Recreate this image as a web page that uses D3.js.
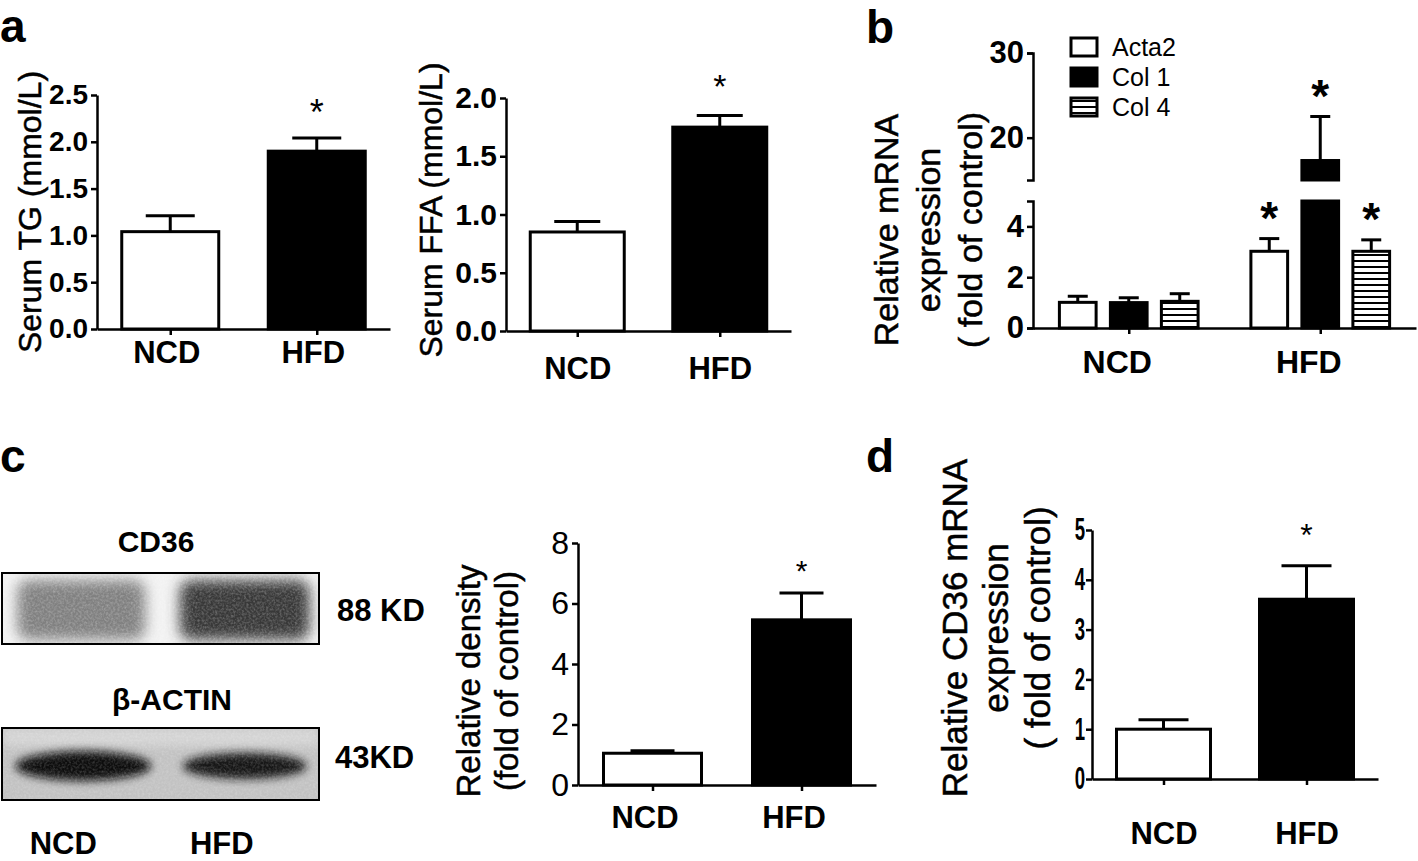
<!DOCTYPE html>
<html>
<head>
<meta charset="utf-8">
<script src="https://cdn.jsdelivr.net/npm/d3@7"></script>
<style>
  body { margin: 0; background: #fff; }
  text { font-family: "Liberation Sans", Arial, sans-serif; fill: #000; }
</style>
</head>
<body>
<svg width="1418" height="861"></svg>
<script>
// ---- data ----
let groups = ['NCD', 'HFD'];
let barFills = ['#fff', '#000'];

let tgMean = [1.04, 1.90];
let tgErr = [0.17, 0.14];
let tgTicks = [0, 0.5, 1.0, 1.5, 2.0, 2.5];

let ffaMean = [0.85, 1.75];
let ffaErr = [0.09, 0.10];
let ffaTicks = [0, 0.5, 1.0, 1.5, 2.0];

let genes = ['Acta2', 'Col 1', 'Col 4'];
let acta2Mean = [1.01, 3.02];
let acta2Err = [0.24, 0.50];
let col1Mean = [1.00, 17.3];
let col1Err = [0.19, 5.2];
let col4Mean = [1.05, 3.02];
let col4Err = [0.30, 0.45];
let mrnaLowTicks = [0, 2, 4];
let mrnaHighTicks = [20, 30];

let cd36Blot = [0.58, 0.82];   // band darkness
let actinBlot = [0.95, 0.93];

let densityMean = [1.05, 5.46];
let densityErr = [0.08, 0.89];
let densityTicks = [0, 2, 4, 6, 8];

let cd36Mean = [1.00, 3.61];
let cd36Err = [0.19, 0.67];
let cd36Ticks = [0, 1, 2, 3, 4, 5];

let svg = d3.select('svg');
let defs = svg.append('defs');

// horizontal stripes for Col 4
let pat = defs.append('pattern').attr('id', 'hatch')
    .attr('patternUnits', 'userSpaceOnUse').attr('width', 8).attr('height', 6);
pat.append('rect').attr('width', 8).attr('height', 6).attr('fill', '#fff');
pat.append('rect').attr('y', 2).attr('width', 8).attr('height', 2).attr('fill', '#000');

defs.append('filter').attr('id', 'blur').attr('x', '-30%').attr('y', '-60%').attr('width', '160%').attr('height', '220%')
  .append('feGaussianBlur').attr('stdDeviation', 7);
defs.append('filter').attr('id', 'blur2').attr('x', '-30%').attr('y', '-60%').attr('width', '160%').attr('height', '220%')
  .append('feGaussianBlur').attr('stdDeviation', 4);

// film grain for the blots
let grain = defs.append('filter').attr('id', 'grain');
grain.append('feTurbulence').attr('type', 'fractalNoise').attr('baseFrequency', 0.45)
    .attr('numOctaves', 2).attr('seed', 3);
grain.append('feColorMatrix').attr('type', 'matrix')
    .attr('values', '0 0 0 0 1  0 0 0 0 1  0 0 0 0 1  0 0 0 -1.4 0.9');

function styleAxis(sel, fs, weight) {
  sel.selectAll('path, line').attr('stroke', '#000').attr('stroke-width', 2.5);
  sel.selectAll('text').attr('font-size', fs).attr('font-weight', weight)
     .attr('font-family', '"Liberation Sans", Arial, sans-serif').attr('fill', '#000');
}

function yLabel(lines, cy, fs) {
  lines.forEach(l => {
    svg.append('text')
        .attr('transform', `translate(${l.x},${cy}) rotate(-90)`)
        .attr('text-anchor', 'middle')
        .attr('dy', '0.35em')
        .attr('font-size', fs)
        .attr('stroke', '#000').attr('stroke-width', 0.5)
        .text(l.t);
  });
}

function panelLetter(t, x, y) {
  svg.append('text').attr('x', x).attr('y', y)
      .attr('font-size', 46).attr('font-weight', 'bold').text(t);
}

function simplePanel(c) {
  let g = svg.append('g');
  let y = d3.scaleLinear().domain([0, c.max]).range([c.y0, c.yTop]);
  let x = d3.scalePoint().domain(groups).range([c.x0, c.x1]).padding(0.5);

  g.selectAll('rect.bar').data(groups).join('rect')
      .attr('class', 'bar')
      .attr('x', d => x(d) - c.barW / 2)
      .attr('width', c.barW)
      .attr('y', (d, i) => y(c.mean[i]))
      .attr('height', (d, i) => c.y0 - y(c.mean[i]))
      .attr('fill', (d, i) => barFills[i])
      .attr('stroke', '#000').attr('stroke-width', 3);

  g.selectAll('line.err').data(groups).join('line')
      .attr('class', 'err')
      .attr('x1', d => x(d)).attr('x2', d => x(d))
      .attr('y1', (d, i) => y(c.mean[i]))
      .attr('y2', (d, i) => y(c.mean[i] + c.err[i]))
      .attr('stroke', '#000').attr('stroke-width', 3);

  g.selectAll('line.cap').data(groups).join('line')
      .attr('class', 'cap')
      .attr('x1', d => x(d) - c.capW / 2).attr('x2', d => x(d) + c.capW / 2)
      .attr('y1', (d, i) => y(c.mean[i] + c.err[i]))
      .attr('y2', (d, i) => y(c.mean[i] + c.err[i]))
      .attr('stroke', '#000').attr('stroke-width', 3);

  // significance star over HFD
  g.append('text')
      .attr('x', x('HFD'))
      .attr('y', y(c.mean[1] + c.err[1]) - c.starGap + 0.57 * c.starSize)
      .attr('text-anchor', 'middle')
      .attr('font-size', c.starSize)
      .text('*');

  let ya = g.append('g').attr('transform', `translate(${c.x0},0)`)
      .call(d3.axisLeft(y).tickValues(c.ticks).tickFormat(c.fmt).tickSize(6).tickSizeOuter(0));
  styleAxis(ya, c.tickFs, c.tickWeight);
  if (c.condensed) {
    ya.selectAll('text').attr('x', -7 / c.condensed).attr('transform', `scale(${c.condensed},1)`);
  }

  let xa = g.append('g').attr('transform', `translate(0,${c.y0})`)
      .call(d3.axisBottom(x).tickSize(6).tickSizeOuter(0));
  styleAxis(xa, c.xFs || 31, 'bold');
  xa.selectAll('text').attr('y', c.xLab).attr('dy', '0.35em').attr('dx', c.xDx || 0);
}

// ---- panel a ----
panelLetter('a', 0, 42);

simplePanel({
  x0: 97, x1: 390, y0: 329, yTop: 95, max: 2.5,
  mean: tgMean, err: tgErr, ticks: tgTicks, fmt: d3.format('.1f'),
  barW: 97, capW: 49, starGap: 34, starSize: 36,
  tickFs: 28, tickWeight: 'bold', xLab: 23, xDx: -4
});
yLabel([{ t: 'Serum TG (mmol/L)', x: 30 }], 212, 32);

simplePanel({
  x0: 506, x1: 791, y0: 331, yTop: 98, max: 2.0,
  mean: ffaMean, err: ffaErr, ticks: ffaTicks, fmt: d3.format('.1f'),
  barW: 94, capW: 46, starGap: 37, starSize: 34,
  tickFs: 30, tickWeight: 'bold', xLab: 37
});
yLabel([{ t: 'Serum FFA (mmol/L)', x: 431 }], 210, 32);

// ---- panel b : grouped bars with broken axis ----
panelLetter('b', 866, 43);
(function () {
  let x0 = 1033, x1 = 1416, y0 = 328;
  let yLow = d3.scaleLinear().domain([0, 5]).range([y0, 201]);
  let yHigh = d3.scaleLinear().domain([15, 30]).range([180, 53]);
  let yv = v => v <= 5 ? yLow(v) : yHigh(v);
  let xg = d3.scalePoint().domain(groups).range([x0, x1]).padding(0.5);
  let xs = d3.scaleBand().domain(genes).range([-77, 77]).paddingInner(0.28).paddingOuter(0.15);
  let fills = ['#fff', '#000', 'url(#hatch)'];
  let means = [acta2Mean, col1Mean, col4Mean];
  let errs = [acta2Err, col1Err, col4Err];
  let rows = [];
  genes.forEach((gene, j) => groups.forEach((grp, i) => rows.push({
    gene, grp, j, mean: means[j][i], err: errs[j][i], star: grp === 'HFD'
  })));
  let g = svg.append('g');
  let bw = xs.bandwidth();

  // lower part of every bar (clipped at 5)
  g.selectAll('rect.low').data(rows).join('rect')
      .attr('x', d => xg(d.grp) + xs(d.gene))
      .attr('width', bw)
      .attr('y', d => yLow(Math.min(d.mean, 5)))
      .attr('height', d => y0 - yLow(Math.min(d.mean, 5)))
      .attr('fill', d => fills[d.j]).attr('stroke', '#000').attr('stroke-width', 3);
  // upper part of bars beyond the break
  g.selectAll('rect.high').data(rows.filter(d => d.mean > 15)).join('rect')
      .attr('x', d => xg(d.grp) + xs(d.gene))
      .attr('width', bw)
      .attr('y', d => yHigh(d.mean))
      .attr('height', d => yHigh(15) - yHigh(d.mean))
      .attr('fill', d => fills[d.j]).attr('stroke', '#000').attr('stroke-width', 3);

  g.selectAll('line.err').data(rows).join('line')
      .attr('x1', d => xg(d.grp) + xs(d.gene) + bw / 2)
      .attr('x2', d => xg(d.grp) + xs(d.gene) + bw / 2)
      .attr('y1', d => yv(d.mean))
      .attr('y2', d => yv(d.mean + d.err))
      .attr('stroke', '#000').attr('stroke-width', 3);
  g.selectAll('line.cap').data(rows).join('line')
      .attr('x1', d => xg(d.grp) + xs(d.gene) + bw / 2 - 10)
      .attr('x2', d => xg(d.grp) + xs(d.gene) + bw / 2 + 10)
      .attr('y1', d => yv(d.mean + d.err))
      .attr('y2', d => yv(d.mean + d.err))
      .attr('stroke', '#000').attr('stroke-width', 3);
  g.selectAll('text.star').data(rows.filter(d => d.star)).join('text')
      .attr('x', d => xg(d.grp) + xs(d.gene) + bw / 2)
      .attr('y', d => yv(d.mean + d.err) - 31 + 0.57 * 46)
      .attr('text-anchor', 'middle').attr('font-size', 46).attr('font-weight', 'bold')
      .text('*');

  let aLow = g.append('g').attr('transform', `translate(${x0},0)`)
      .call(d3.axisLeft(yLow).tickValues(mrnaLowTicks).tickFormat(d3.format('d')).tickSize(6).tickSizeOuter(6));
  styleAxis(aLow, 31, 'bold');
  let aHigh = g.append('g').attr('transform', `translate(${x0},0)`)
      .call(d3.axisLeft(yHigh).tickValues(mrnaHighTicks).tickFormat(d3.format('d')).tickSize(6).tickSizeOuter(6));
  styleAxis(aHigh, 31, 'bold');

  let xa = g.append('g').attr('transform', `translate(0,${y0})`)
      .call(d3.axisBottom(xg).tickSize(6).tickSizeOuter(0));
  styleAxis(xa, 32, 'bold');
  xa.selectAll('text').attr('y', 34).attr('dy', '0.35em').attr('dx', -12);

  // legend
  let lg = g.append('g').attr('transform', 'translate(1071,38)');
  let li = lg.selectAll('g').data(genes).join('g')
      .attr('transform', (d, i) => `translate(0,${i * 30})`);
  li.append('rect').attr('width', 26).attr('height', 18)
      .attr('fill', (d, i) => fills[i]).attr('stroke', '#000').attr('stroke-width', 3);
  li.append('text').attr('x', 41).attr('y', 9).attr('dy', '0.35em')
      .attr('font-size', 25).text(d => d);
})();
yLabel([
  { t: 'Relative mRNA', x: 886 },
  { t: 'expression', x: 928 },
  { t: '( fold of control)', x: 970 }
], 230, 34);

// ---- panel c : western blot + density ----
panelLetter('c', 0, 472);
(function () {
  let bx = d3.scalePoint().domain(groups).range([2, 319]).padding(0.5);
  let g = svg.append('g');
  let clip1 = defs.append('clipPath').attr('id', 'blot1');
  clip1.append('rect').attr('x', 2).attr('y', 573).attr('width', 317).attr('height', 71);
  let clip2 = defs.append('clipPath').attr('id', 'blot2');
  clip2.append('rect').attr('x', 2).attr('y', 728).attr('width', 317).attr('height', 72);

  g.append('text').attr('x', 156).attr('y', 552).attr('text-anchor', 'middle')
      .attr('font-size', 30).attr('font-weight', 'bold').text('CD36');
  let b1 = g.append('g').attr('clip-path', 'url(#blot1)');
  b1.append('rect').attr('x', 2).attr('y', 573).attr('width', 317).attr('height', 71).attr('fill', '#f2f2f2');
  b1.selectAll('rect.band').data(groups).join('rect')
      .attr('x', d => bx(d) - (d === 'NCD' ? 64 : 60)).attr('width', d => d === 'NCD' ? 128 : 130)
      .attr('y', 580).attr('height', 60).attr('rx', 12)
      .attr('fill', (d, i) => d3.interpolateGreys(cd36Blot[i]))
      .attr('filter', 'url(#blur)');
  b1.append('rect').attr('x', 2).attr('y', 573).attr('width', 317).attr('height', 71)
      .attr('filter', 'url(#grain)').attr('opacity', 0.35);
  g.append('rect').attr('x', 2).attr('y', 573).attr('width', 317).attr('height', 71)
      .attr('fill', 'none').attr('stroke', '#000').attr('stroke-width', 2);
  g.append('text').attr('x', 337).attr('y', 621)
      .attr('font-size', 31).attr('font-weight', 'bold').text('88 KD');

  g.append('text').attr('x', 172).attr('y', 710).attr('text-anchor', 'middle')
      .attr('font-size', 30).attr('font-weight', 'bold').text('β-ACTIN');
  let b2 = g.append('g').attr('clip-path', 'url(#blot2)');
  b2.append('rect').attr('x', 2).attr('y', 728).attr('width', 317).attr('height', 72).attr('fill', '#c2c2c2');
  b2.append('rect').attr('x', 2).attr('y', 728).attr('width', 317).attr('height', 18).attr('fill', '#d4d4d4')
      .attr('filter', 'url(#blur2)');
  b2.selectAll('ellipse.band').data(groups).join('ellipse')
      .attr('cx', d => bx(d) + (d === 'NCD' ? 2 : 5))
      .attr('cy', 766)
      .attr('rx', (d, i) => i === 0 ? 68 : 62)
      .attr('ry', (d, i) => i === 0 ? 15 : 13)
      .attr('fill', (d, i) => d3.interpolateGreys(actinBlot[i]))
      .attr('filter', 'url(#blur2)');
  b2.append('rect').attr('x', 2).attr('y', 728).attr('width', 317).attr('height', 72)
      .attr('filter', 'url(#grain)').attr('opacity', 0.25);
  g.append('rect').attr('x', 2).attr('y', 728).attr('width', 317).attr('height', 72)
      .attr('fill', 'none').attr('stroke', '#000').attr('stroke-width', 2);
  g.append('text').attr('x', 335).attr('y', 768)
      .attr('font-size', 31).attr('font-weight', 'bold').text('43KD');

  g.selectAll('text.lane').data(groups).join('text')
      .attr('x', d => bx(d) - 18).attr('y', 854).attr('text-anchor', 'middle')
      .attr('font-size', 31).attr('font-weight', 'bold').text(d => d);
})();

simplePanel({
  x0: 578, x1: 876, y0: 785, yTop: 543, max: 8,
  mean: densityMean, err: densityErr, ticks: densityTicks, fmt: d3.format('d'),
  barW: 98, capW: 44, starGap: 29, starSize: 30,
  tickFs: 32, tickWeight: 'normal', xLab: 32, xDx: -8
});
yLabel([
  { t: 'Relative density', x: 468 },
  { t: '(fold of control)', x: 506 }
], 681, 33);

// ---- panel d ----
panelLetter('d', 866, 472);
simplePanel({
  x0: 1092, x1: 1378, y0: 779, yTop: 530, max: 5,
  mean: cd36Mean, err: cd36Err, ticks: cd36Ticks, fmt: d3.format('d'),
  barW: 94, capW: 50, starGap: 38, starSize: 32,
  tickFs: 31, tickWeight: 'bold', condensed: 0.6, xLab: 54
});
yLabel([
  { t: 'Relative CD36 mRNA', x: 955 },
  { t: 'expression', x: 996 },
  { t: '( fold of control)', x: 1038 }
], 628, 35);
</script>
</body>
</html>
